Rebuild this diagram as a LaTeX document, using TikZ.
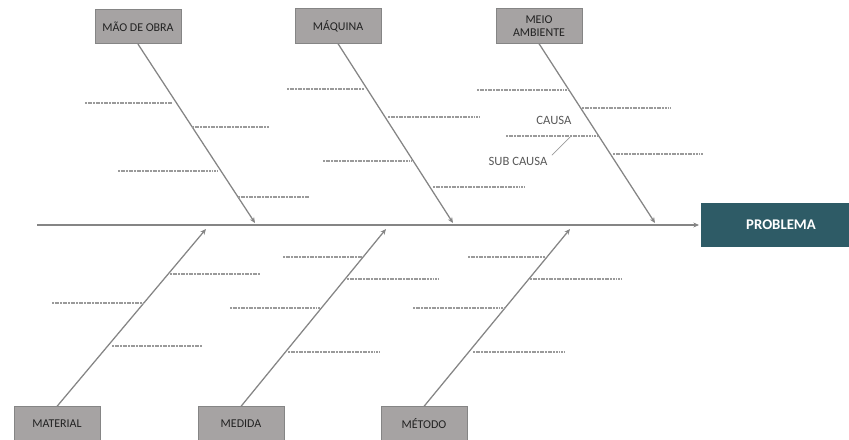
\documentclass[tikz,border=0pt]{standalone}
\usepackage{fontspec}
\setmainfont{Carlito}
\usetikzlibrary{positioning,arrows.meta}
\definecolor{grey800} {HTML}{222222}
\definecolor{grey600} {HTML}{595959}
\definecolor{grey500} {HTML}{858585}
\definecolor{grey400} {HTML}{A6A3A3}
\definecolor{grey300} {HTML}{9A9A9A}
\definecolor{teal700} {HTML}{2E5B66}
\tikzset{
  cat/.style   ={draw=grey500, fill=grey400, line width=0.6pt,
                 minimum width=2.15cm, minimum height=0.86cm,
                 align=center, inner sep=1pt, text=grey800,
                 font=\fontsize{8.5}{9.7}\selectfont},
  prob/.style  ={fill=teal700, minimum width=3.98cm, minimum height=1.1cm,
                 inner sep=1pt, text=white,
                 font=\bfseries\fontsize{10.5}{12}\selectfont},
  spine/.style ={draw=grey500, line width=1.1pt,
                 -{Stealth[length=4pt,width=3.5pt]}},
  bone/.style  ={draw=grey500, line width=0.9pt,
                 -{Stealth[length=4pt,width=3.5pt]}},
  sub/.style   ={draw=grey300, line width=0.75pt,
                 dash pattern=on 1.4pt off 0.5pt},
  lead/.style  ={draw=grey300, line width=0.5pt},
  tag/.style   ={font=\fontsize{9}{10}\selectfont, text=grey600, inner sep=1pt}
}
\begin{document}
\begin{tikzpicture}[x=0.025cm, y=-0.025cm]
\useasboundingbox (0,0) rectangle (849,440);

% head and spine
\node[prob] (prob) at (781,225) {PROBLEMA};
\coordinate (tail) at (37,225);
\draw[spine, shorten >=1.5pt] (tail) -- (prob.west);

% categories
\node[cat] (mao)     at (138,26.5) {MÃO DE OBRA};
\node[cat] (maquina) at (338,26)   {MÁQUINA};
\node[cat] (meio)    at (539,26)   {MEIO\\AMBIENTE};
\node[cat] (material) at (57,424)  {MATERIAL};
\node[cat] (medida)   at (241,424) {MEDIDA};
\node[cat] (metodo)   at (424,424) {MÉTODO};

\coordinate (jmao)      at (255,223);
\coordinate (jmaquina)  at (453,223);
\coordinate (jmeio)     at (655,223);
\coordinate (jmaterial) at (206,229);
\coordinate (jmedida)   at (386,229);
\coordinate (jmetodo)   at (570,229);

\foreach \c in {mao, maquina, meio}
  \draw[bone] (\c.south) -- (j\c);
\foreach \c in {material, medida, metodo}
  \draw[bone] (\c.north) -- (j\c);

% causes
\foreach \a/\b/\y in {85/172/103, 192/269/127, 118/218/171, 238/310/197,
                      287/364/89, 388/479/117, 323/412/161, 433/524/187,
                      477/568/90, 582/671/108, 506/598/136, 613/703/154,
                      170/260/274, 52/143/303, 112/202/346,
                      283/362/257, 347/438/279, 230/320/308, 288/380/352,
                      468/545/257, 530/622/279, 413/505/308, 473/564/352}
  \draw[sub] (\a,\y) -- (\b,\y);

\node[tag] (causa)    at (554,120) {CAUSA};
\node[tag] (subcausa) at (518,161) {SUB CAUSA};
\coordinate (subtip) at (570,137);
\draw[lead] ([xshift=2pt]subcausa.north east) -- (subtip);
\end{tikzpicture}
\end{document}
